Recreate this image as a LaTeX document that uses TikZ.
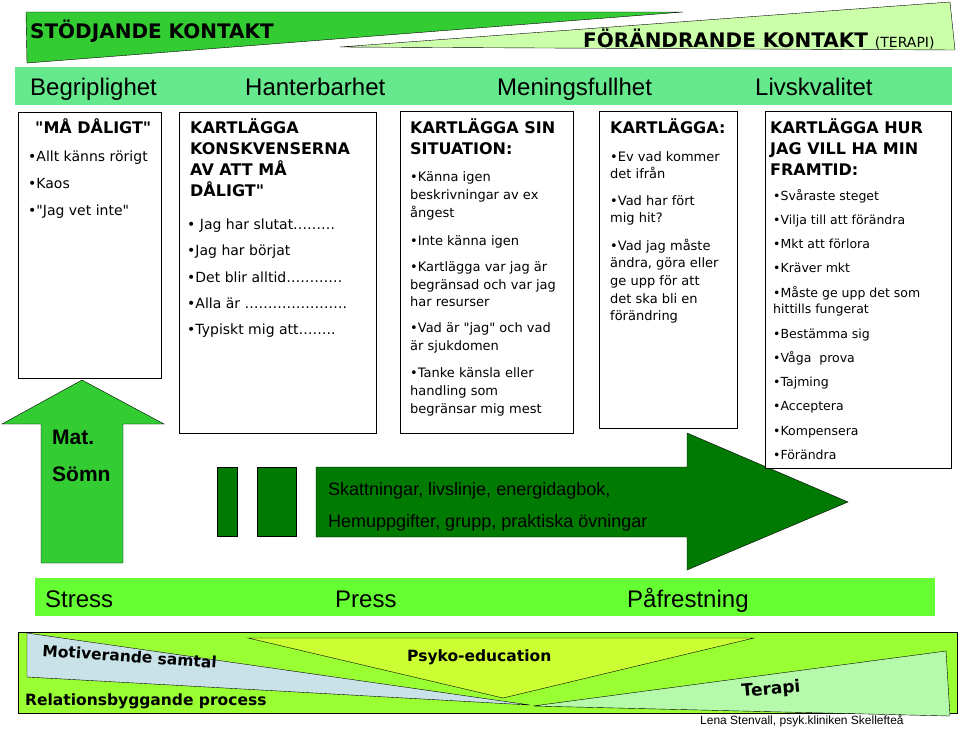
\documentclass[tikz,border=0pt]{standalone}
\usepackage{fontspec}
\setmainfont{Liberation Sans}
\newfontfamily\comicfont{DejaVu Sans}
\usepackage{tikz}

\definecolor{kontakt}{RGB}{51,204,51}
\definecolor{lightkontakt}{RGB}{204,255,170}
\definecolor{bandgreen}{RGB}{102,232,140}
\definecolor{arrowgreen}{RGB}{0,122,0}
\definecolor{stressgreen}{RGB}{102,255,51}
\definecolor{panelgreen}{RGB}{153,255,51}
\definecolor{motivblue}{RGB}{200,226,232}
\definecolor{psykoyellow}{RGB}{204,255,51}
\definecolor{terapigreen}{RGB}{180,250,170}

\begin{document}
\begin{tikzpicture}[x=1pt,y=1pt]
			\tikzstyle{every node}+=[inner sep=0pt]
			\tikzstyle{kontakttext}=[anchor=base west, font=\comicfont\bfseries\fontsize{20}{20}\selectfont]
			\tikzstyle{bandtext}=[anchor=base west, font=\fontsize{24}{24}\selectfont]
			\tikzstyle{box}=[draw=black, fill=white, line width=0.8pt]
			\tikzstyle{boxhead}=[anchor=base west, font=\comicfont\bfseries\fontsize{16}{16}\selectfont]
			\tikzstyle{boxitem}=[anchor=base west, font=\comicfont\fontsize{14}{14}\selectfont]
			\tikzstyle{smallitem}=[anchor=base west, font=\comicfont\fontsize{13}{13}\selectfont]
			\tikzstyle{tinyitem}=[anchor=base west, font=\comicfont\fontsize{12.5}{12.5}\selectfont]
			\tikzstyle{arrowtext}=[anchor=base west, font=\fontsize{18}{18}\selectfont]
			\tikzstyle{paneltext}=[anchor=base west, font=\comicfont\bfseries\fontsize{15.5}{15.5}\selectfont]
			\useasboundingbox (0,0) rectangle (960,-728);
			% top: stodjande / forandrande
			\draw [black, fill=lightkontakt] (340,-47) -- (950,-2) -- (955,-50) -- cycle;
			\draw [black, fill=kontakt] (26,-12) -- (683,-12) -- (27,-63) -- cycle;
			\draw (30,-38) node [kontakttext] (stod) {STÖDJANDE KONTAKT};
			\draw (583,-47) node [kontakttext] (forand) {FÖRÄNDRANDE KONTAKT {\mdseries\fontsize{14}{14}\selectfont(TERAPI)}};
			\fill [bandgreen] (15,-67) rectangle (952,-105);
			\draw (30,-95) node [bandtext] (begr) {Begriplighet};
			\draw (245,-95) node [bandtext] (hant) {Hanterbarhet};
			\draw (497,-95) node [bandtext] (mening) {Meningsfullhet};
			\draw (755,-95) node [bandtext] (livs) {Livskvalitet};
			% arrows
			\draw [black, fill=kontakt] (41,-563) -- (41,-424) -- (2,-424) -- (82,-380) -- (164,-424) -- (123,-424) -- (123,-563) -- cycle;
			\draw (52,-444) node [anchor=base west, font=\bfseries\fontsize{21}{21}\selectfont] (mat) {Mat.};
			\draw (52,-481) node [anchor=base west, font=\bfseries\fontsize{21}{21}\selectfont] (somn) {Sömn};
			\draw [black, fill=arrowgreen] (217,-467) rectangle (237,-536);
			\draw [black, fill=arrowgreen] (257,-467) rectangle (296,-536);
			\draw [black, fill=arrowgreen] (316,-467) -- (687,-467) -- (687,-433) -- (848,-502) -- (687,-570) -- (687,-537) -- (316,-537) -- cycle;
			\draw (328,-495) node [arrowtext] (skatt) {Skattningar, livslinje, energidagbok,};
			\draw (328,-527) node [arrowtext] (hemupp) {Hemuppgifter, grupp, praktiska övningar};
			% boxes
			\draw [box] (18,-112) rectangle (161,-378);
			\draw (35,-133) node [boxhead] (ma) {"MÅ DÅLIGT"};
			\draw (28,-161) node [boxitem] (ma1) {•Allt känns rörigt};
			\draw (28,-188) node [boxitem] (ma2) {•Kaos};
			\draw (28,-215) node [boxitem] (ma3) {•"Jag vet inte"};
			\draw [box] (179,-112) rectangle (376,-433);
			\draw (190,-133) node [boxhead] (kons1) {KARTLÄGGA};
			\draw (190,-154) node [boxhead] (kons2) {KONSKVENSERNA};
			\draw (190,-175) node [boxhead] (kons3) {AV ATT MÅ};
			\draw (190,-196) node [boxhead] (kons4) {DÅLIGT"};
			\draw (187,-229) node [boxitem] (kons5) {• Jag har slutat………};
			\draw (187,-255) node [boxitem] (kons6) {•Jag har börjat};
			\draw (187,-282) node [boxitem] (kons7) {•Det blir alltid…………};
			\draw (187,-308) node [boxitem] (kons8) {•Alla är ………………….};
			\draw (187,-334) node [boxitem] (kons9) {•Typiskt mig att……..};
			\draw [box] (400,-111) rectangle (573,-433);
			\draw (410,-133) node [boxhead] (sit1) {KARTLÄGGA SIN};
			\draw (410,-154) node [boxhead] (sit2) {SITUATION:};
			\draw (410,-181) node [smallitem] (sit3) {•Känna igen};
			\draw (410,-199) node [smallitem] (sit4) {beskrivningar av ex};
			\draw (410,-217) node [smallitem] (sit5) {ångest};
			\draw (410,-245) node [smallitem] (sit6) {•Inte känna igen};
			\draw (410,-271) node [smallitem] (sit7) {•Kartlägga var jag är};
			\draw (410,-289) node [smallitem] (sit8) {begränsad och var jag};
			\draw (410,-306) node [smallitem] (sit9) {har resurser};
			\draw (410,-332) node [smallitem] (sit10) {•Vad är "jag" och vad};
			\draw (410,-350) node [smallitem] (sit11) {är sjukdomen};
			\draw (410,-377) node [smallitem] (sit12) {•Tanke känsla eller};
			\draw (410,-395) node [smallitem] (sit13) {handling som};
			\draw (410,-413) node [smallitem] (sit14) {begränsar mig mest};
			\draw [box] (599,-111) rectangle (737,-428);
			\draw (610,-133) node [boxhead] (hit1) {KARTLÄGGA:};
			\draw (610,-161) node [smallitem] (hit2) {•Ev vad kommer};
			\draw (610,-178) node [smallitem] (hit3) {det ifrån};
			\draw (610,-205) node [smallitem] (hit4) {•Vad har fört};
			\draw (610,-222) node [smallitem] (hit5) {mig hit?};
			\draw (610,-250) node [smallitem] (hit6) {•Vad jag måste};
			\draw (610,-267) node [smallitem] (hit7) {ändra, göra eller};
			\draw (610,-285) node [smallitem] (hit8) {ge upp för att};
			\draw (610,-303) node [smallitem] (hit9) {det ska bli en};
			\draw (610,-320) node [smallitem] (hit10) {förändring};
			\draw [box] (765,-111) rectangle (951,-468);
			\draw (770,-133) node [boxhead] (fram1) {KARTLÄGGA HUR};
			\draw (770,-154) node [boxhead] (fram2) {JAG VILL HA MIN};
			\draw (770,-175) node [boxhead] (fram3) {FRAMTID:};
			\draw (773,-200) node [tinyitem] (fram4) {•Svåraste steget};
			\draw (773,-224) node [tinyitem] (fram5) {•Vilja till att förändra};
			\draw (773,-248) node [tinyitem] (fram6) {•Mkt att förlora};
			\draw (773,-272) node [tinyitem] (fram7) {•Kräver mkt};
			\draw (773,-297) node [tinyitem] (fram8) {•Måste ge upp det som};
			\draw (773,-313) node [tinyitem] (fram9) {hittills fungerat};
			\draw (773,-338) node [tinyitem] (fram10) {•Bestämma sig};
			\draw (773,-362) node [tinyitem] (fram11) {•Våga\ \ prova};
			\draw (773,-386) node [tinyitem] (fram12) {•Tajming};
			\draw (773,-410) node [tinyitem] (fram13) {•Acceptera};
			\draw (773,-435) node [tinyitem] (fram14) {•Kompensera};
			\draw (773,-459) node [tinyitem] (fram15) {•Förändra};
			% stress band
			\fill [stressgreen] (35,-578) rectangle (935,-616);
			\draw (45,-607) node [bandtext] (stress) {Stress};
			\draw (335,-607) node [bandtext] (press) {Press};
			\draw (627,-607) node [bandtext] (pafrest) {Påfrestning};
			% bottom panel
			\draw [black, fill=panelgreen] (18,-632) rectangle (957,-713);
			\draw [black, fill=motivblue] (27,-633) -- (530,-705) -- (27,-677) -- cycle;
			\draw [black, fill=psykoyellow] (248,-638) -- (754,-638) -- (503,-698) -- cycle;
			\draw [black, fill=terapigreen] (533,-706) -- (946,-651) -- (950,-716) -- cycle;
			\draw (42,-656) node [paneltext, rotate=-4] (motiv) {Motiverande samtal};
			\draw (407,-661) node [paneltext] (psyko) {Psyko-education};
			\draw (25,-705) node [paneltext] (relation) {Relationsbyggande process};
			\draw (742,-697) node [paneltext, rotate=5, font=\comicfont\bfseries\fontsize{17}{17}\selectfont] (terapi) {Terapi};
			\draw (700,-724) node [anchor=base west, font=\fontsize{12}{12}\selectfont] (lena) {Lena Stenvall, psyk.kliniken Skellefteå};
\end{tikzpicture}
\end{document}
